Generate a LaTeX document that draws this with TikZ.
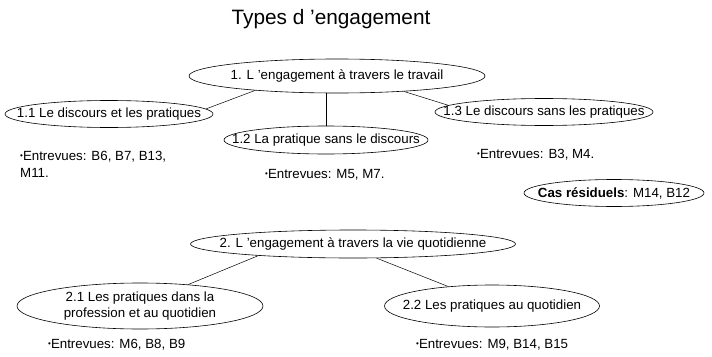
\documentclass[tikz,border=0pt]{standalone}
\usepackage{fontspec}
\setmainfont{Liberation Sans}
\usetikzlibrary{shapes.geometric}

\tikzset{
  oval/.style 2 args={draw, ellipse, line width=0.6pt, inner sep=0pt,
    minimum width=#1, minimum height=#2},
  lien/.style={line width=0.5pt},
  entrevue/.style={anchor=base west, inner sep=0pt, align=left},
}
\newcommand{\puce}{\raisebox{0.25ex}{\fontsize{8}{8}\selectfont•}}

\begin{document}
\begin{tikzpicture}[x=1pt, y=-1pt, font=\fontsize{13.3}{16.5}\selectfont]
    \useasboundingbox (0,0) rectangle (712,356);
    \node [anchor=base, inner sep=0pt, font=\fontsize{20.8}{24}\selectfont] (titre) at (331,24) {Types d 'engagement};
    % Draw first level
    \node [oval={296pt}{34pt}, label=center:{1. L 'engagement à travers le travail}] (E1) at (337,76) {};
    \node [oval={208pt}{27pt}, label=center:{1.1 Le discours et les pratiques}] (E11) at (109,114) {};
    \node [oval={204pt}{28pt}, label=center:{1.2 La pratique sans le discours}] (E12) at (326,140) {};
    \node [oval={218pt}{27pt}, label=center:{1.3 Le discours sans les pratiques}] (E13) at (544,112) {};
    \draw [lien] (E1.190) -- (E11.3);
    \draw [lien] (E12.north) -- (E12.north |- E1.south);
    \draw [lien] (E1.347) -- (E13.176);
    \node [entrevue] (N11) at (20,177) {\puce Entrevues: B6, B7, B13,\\M11.};% base = last line
    \node [entrevue] (N12) at (265,178) {\puce Entrevues: M5, M7.};
    \node [entrevue] (N13) at (477,158) {\puce Entrevues: B3, M4.};
    % Residual cases
    \node [oval={180pt}{27pt}, label=center:{\textbf{Cas résiduels}: M14, B12}] (CR) at (614,193) {};
    % Draw second level
    \node [oval={325pt}{28pt}, label=center:{2. L 'engagement à travers la vie quotidienne}] (E2) at (353,244) {};
    \node [oval={246pt}{46pt}, label={[align=center]center:2.1 Les pratiques dans la\\profession et au quotidien}] (E21) at (140,306) {};
    \node [oval={215pt}{42pt}, label=center:{2.2 Les pratiques au quotidien}] (E22) at (492,306) {};
    \draw [lien] (E2.187) -- (E21.24);
    \draw [lien] (E2.329) -- (E22.156);
    \node [entrevue] (N21) at (48,348) {\puce Entrevues: M6, B8, B9};
    \node [entrevue] (N22) at (416,348) {\puce Entrevues: M9, B14, B15};
\end{tikzpicture}
\end{document}
